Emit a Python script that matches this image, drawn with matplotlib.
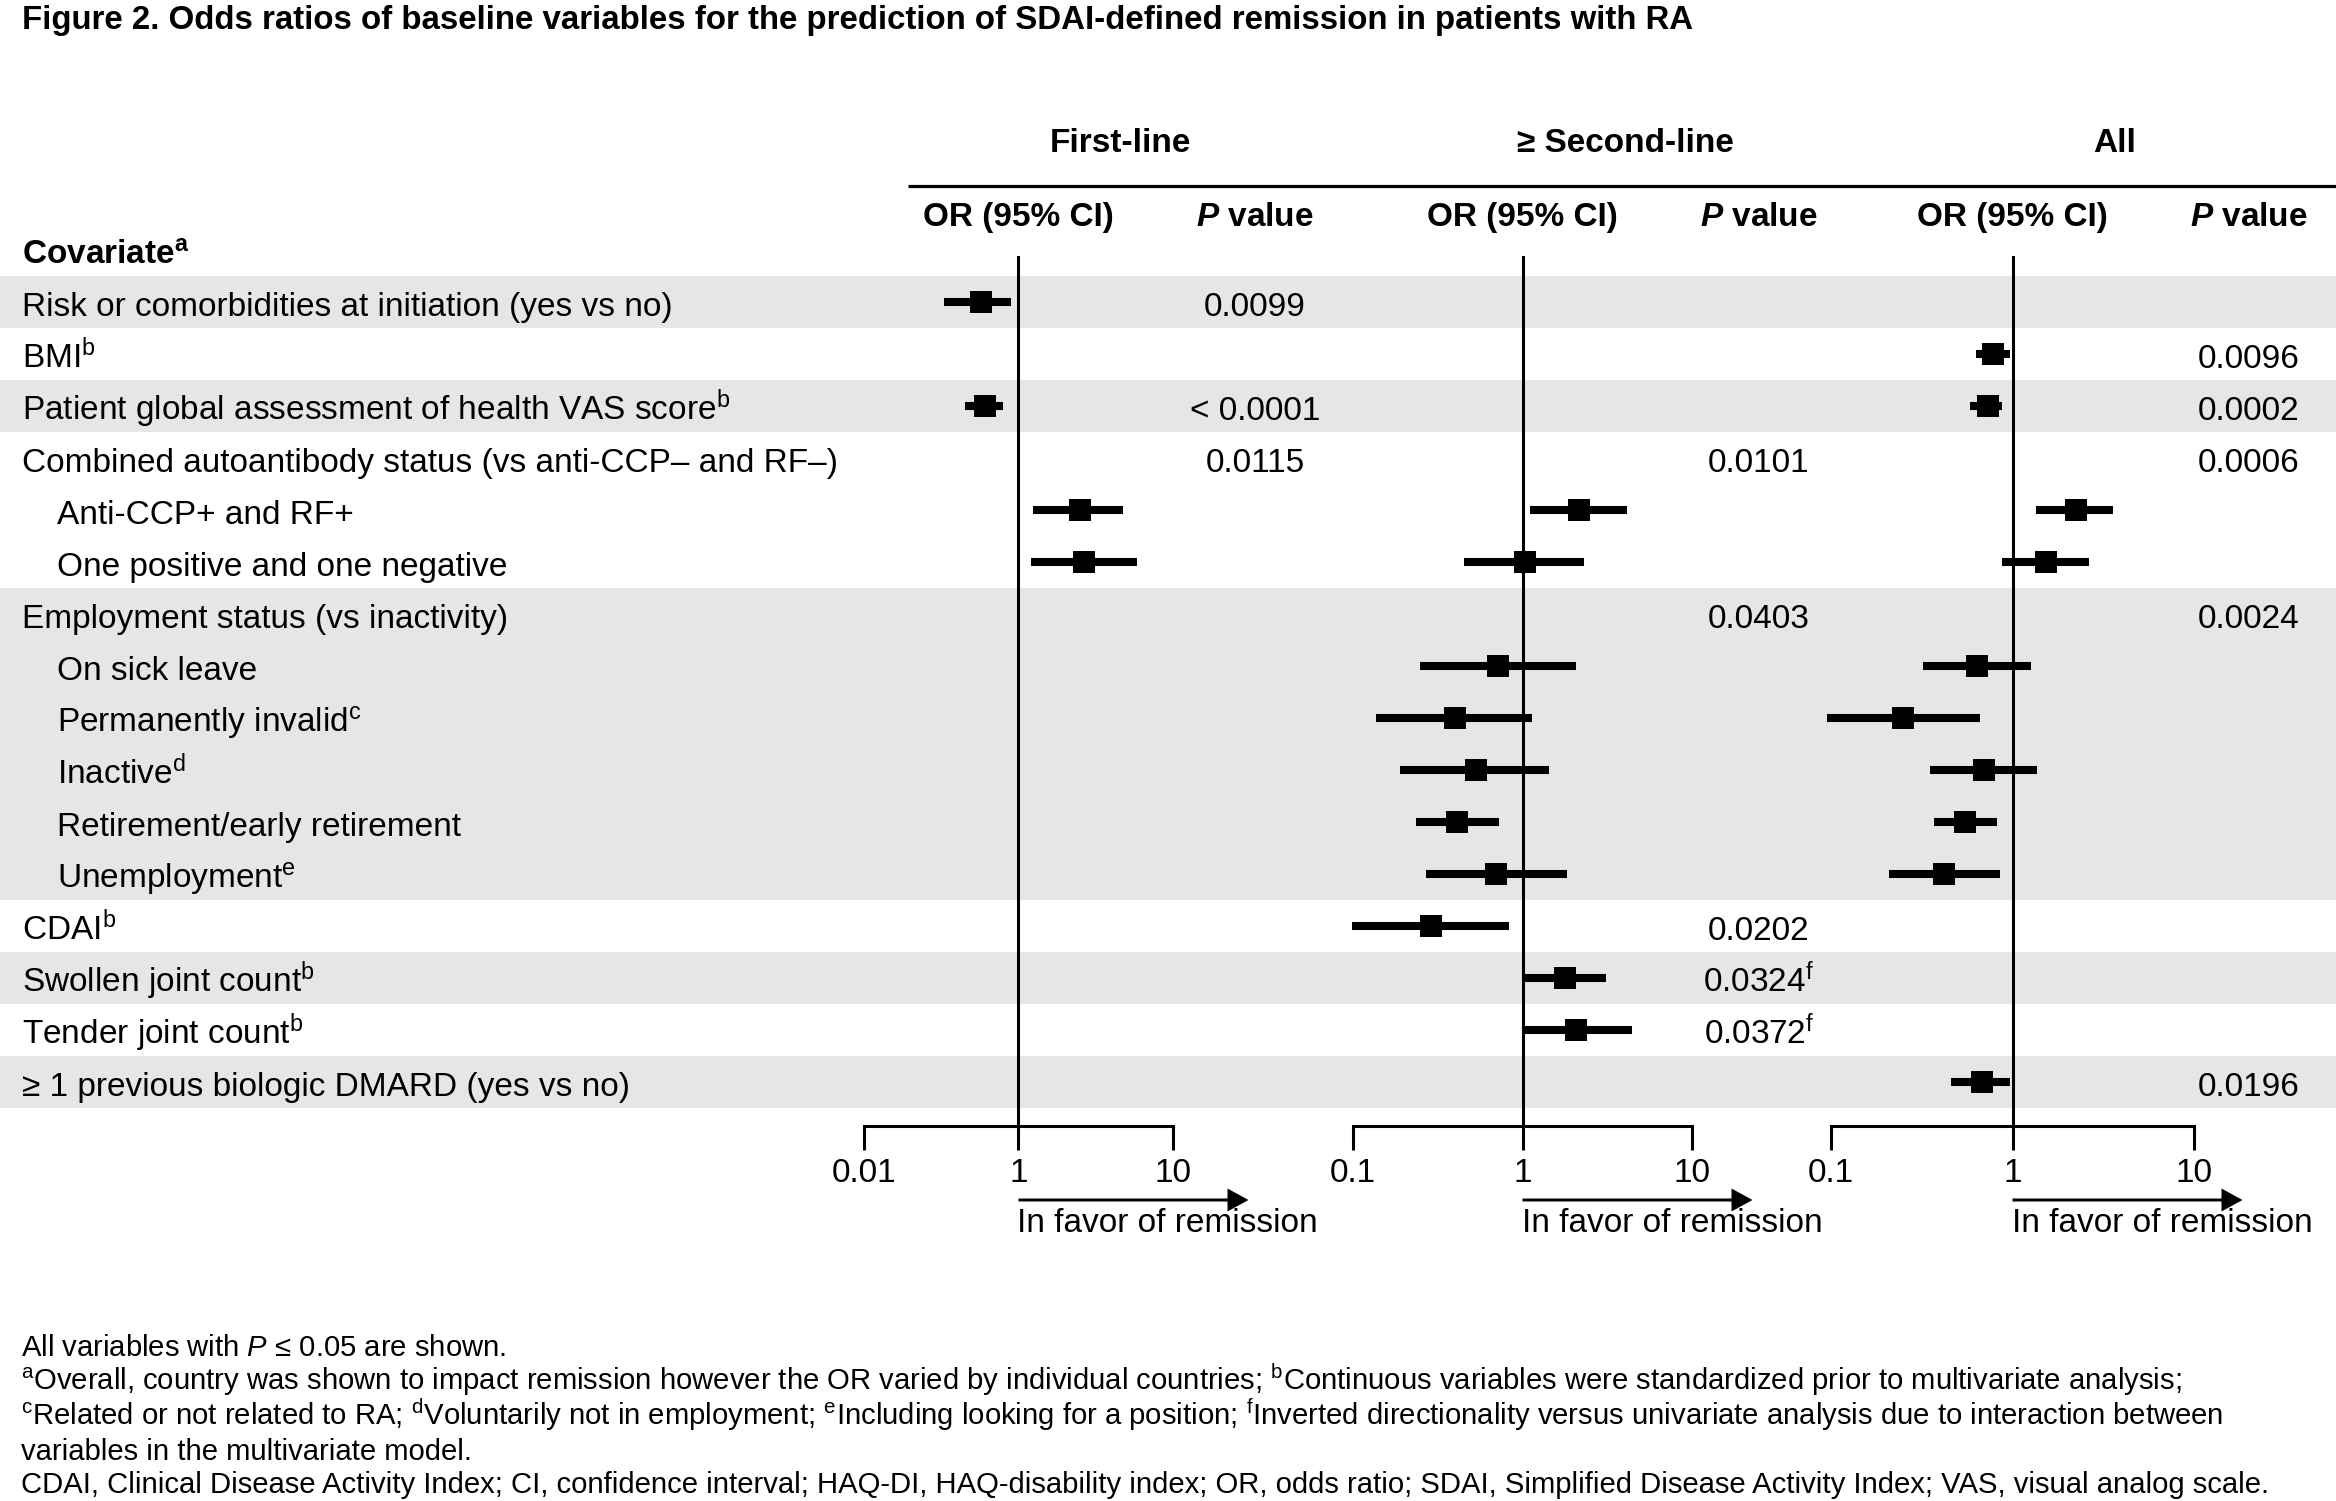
import numpy as np
import matplotlib
matplotlib.use('Agg')
import matplotlib.pyplot as plt
from matplotlib.ticker import NullLocator
from matplotlib.patches import Rectangle

plt.rcParams['font.family'] = ['Liberation Sans', 'DejaVu Sans']
plt.rcParams['mathtext.fontset'] = 'custom'
plt.rcParams['mathtext.rm'] = 'Liberation Sans'
plt.rcParams['mathtext.it'] = 'Liberation Sans:italic'
plt.rcParams['mathtext.bf'] = 'Liberation Sans:bold'
plt.rcParams['mathtext.bfit'] = 'Liberation Sans:italic:bold'

# ---------------- data ----------------
covariates = [
    "Risk or comorbidities at initiation (yes vs no)",
    r"BMI$^{\mathrm{b}}$",
    r"Patient global assessment of health VAS score$^{\mathrm{b}}$",
    "Combined autoantibody status (vs anti-CCP– and RF–)",
    "Anti-CCP+ and RF+",
    "One positive and one negative",
    "Employment status (vs inactivity)",
    "On sick leave",
    r"Permanently invalid$^{\mathrm{c}}$",
    r"Inactive$^{\mathrm{d}}$",
    "Retirement/early retirement",
    r"Unemployment$^{\mathrm{e}}$",
    r"CDAI$^{\mathrm{b}}$",
    r"Swollen joint count$^{\mathrm{b}}$",
    r"Tender joint count$^{\mathrm{b}}$",
    "≥ 1 previous biologic DMARD (yes vs no)",
]
indented = [0, 0, 0, 0, 1, 1, 0, 1, 1, 1, 1, 1, 0, 0, 0, 0]
shaded = [1, 0, 1, 0, 0, 0, 1, 1, 1, 1, 1, 1, 0, 1, 0, 1]

nan = np.nan
first_or = [0.33, nan, 0.37, nan, 2.49, 2.65, nan, nan, nan, nan, nan, nan, nan, nan, nan, nan]
first_lo = [0.11, nan, 0.20, nan, 1.24, 1.21, nan, nan, nan, nan, nan, nan, nan, nan, nan, nan]
first_hi = [0.80, nan, 0.63, nan, 4.77, 5.83, nan, nan, nan, nan, nan, nan, nan, nan, nan, nan]
first_p = ["0.0099", "", "< 0.0001", "0.0115", "", "", "", "", "", "", "", "", "", "", "", ""]

second_or = [nan, nan, nan, nan, 2.15, 1.04, nan, 0.72, 0.40, 0.53, 0.41, 0.70, 0.29, 1.78, 2.07, nan]
second_lo = [nan, nan, nan, nan, 1.10, 0.45, nan, 0.25, 0.137, 0.19, 0.236, 0.27, 0.099, 1.01, 1.01, nan]
second_hi = [nan, nan, nan, nan, 4.16, 2.32, nan, 2.07, 1.14, 1.43, 0.73, 1.82, 0.835, 3.13, 4.41, nan]
second_p = ["", "", "", "0.0101", "", "", "0.0403", "", "", "", "", "", "0.0202",
            r"0.0324$^{\mathrm{f}}$", r"0.0372$^{\mathrm{f}}$", ""]

all_or = [nan, 0.78, 0.73, nan, 2.24, 1.53, nan, 0.64, 0.25, 0.70, 0.55, 0.42, nan, nan, nan, 0.68]
all_lo = [nan, 0.63, 0.58, nan, 1.35, 0.87, nan, 0.32, 0.095, 0.35, 0.37, 0.21, nan, nan, nan, 0.46]
all_hi = [nan, 0.965, 0.88, nan, 3.60, 2.63, nan, 1.27, 0.66, 1.36, 0.82, 0.85, nan, nan, nan, 0.97]
all_p = ["", "0.0096", "0.0002", "0.0006", "", "", "0.0024", "", "", "", "", "", "", "", "", "0.0196"]

panel_titles = ["First-line", "≥ Second-line", "All"]
panel_ticks = [[0.01, 1, 10], [0.1, 1, 10], [0.1, 1, 10]]
panel_ticklabels = [["0.01", "1", "10"], ["0.1", "1", "10"], ["0.1", "1", "10"]]

# ---------------- layout ----------------
W, H, DPI = 2336, 1501, 100
ROW0, ROWH = 301.7, 52.0
PTOP, PBOT = 255.7, 1126.0
panel_x = [(864, 1173), (1353, 1692), (1831, 2194)]
pcol_x = [1255, 1759, 2249]
title_x = [1120, 1625, 2115]
FS = 24
BLACK = 'black'
GREY = '#e6e6e6'

fig = plt.figure(figsize=(W / DPI, H / DPI), dpi=DPI)
bg = fig.add_axes([0, 0, 1, 1], zorder=0)
bg.set_xlim(0, W)
bg.set_ylim(H, 0)
bg.axis('off')

n = len(covariates)
rows = np.arange(n)

# bands
for i in rows:
    if shaded[i]:
        bg.add_patch(Rectangle((0, ROW0 + ROWH * i - ROWH / 2), W, ROWH,
                               facecolor=GREY, edgecolor='none', zorder=0))

# title
bg.text(22, 29, "Figure 2. Odds ratios of baseline variables for the prediction of "
        "SDAI-defined remission in patients with RA",
        fontsize=23.8, fontweight='bold', ha='left', va='baseline', color=BLACK)

# headers
bg.plot([908, W], [185.7, 185.7], color=BLACK, lw=2.3, solid_capstyle='butt')
for k in range(3):
    bg.text(title_x[k], 152, panel_titles[k], fontsize=FS, fontweight='bold',
            ha='center', va='baseline', color=BLACK)
    xm = 0.5 * (panel_x[k][0] + panel_x[k][1])
    bg.text(xm, 226, "OR (95% CI)", fontsize=FS, fontweight='bold',
            ha='center', va='baseline', color=BLACK)
    bg.text(pcol_x[k], 226, r"$\mathbfit{P}$ value", fontsize=FS, fontweight='bold',
            ha='center', va='baseline', color=BLACK)
bg.text(22, 265, r"Covariate$^{\mathbf{a}}$", fontsize=FS, fontweight='bold',
        ha='left', va='baseline', color=BLACK)

# row labels
for i in rows:
    x = 57 if indented[i] else 22
    bg.text(x, ROW0 + ROWH * i + 14, covariates[i], fontsize=FS,
            ha='left', va='baseline', color=BLACK)

# p-values
for k, plist in enumerate([first_p, second_p, all_p]):
    for i in rows:
        if plist[i]:
            bg.text(pcol_x[k], ROW0 + ROWH * i + 14, plist[i], fontsize=FS,
                    ha='center', va='baseline', color=BLACK)


# panel scales
def fwd1(x):
    x = np.asarray(x, dtype=float)
    with np.errstate(divide='ignore', invalid='ignore'):
        l = np.log10(np.where(x > 0, x, np.nan))
    return np.where(l < 0, l / 2.0, l)


def inv1(u):
    u = np.asarray(u, dtype=float)
    return np.where(u < 0, 10.0 ** (2.0 * u), 10.0 ** u)


series = [(first_or, first_lo, first_hi), (second_or, second_lo, second_hi),
          (all_or, all_lo, all_hi)]
axes = []
for k in range(3):
    x0, x1 = panel_x[k]
    ax = fig.add_axes([x0 / W, 1 - PBOT / H, (x1 - x0) / W, (PBOT - PTOP) / H], zorder=2)
    ax.patch.set_visible(False)
    if k == 0:
        ax.set_xscale('function', functions=(fwd1, inv1))
    else:
        ax.set_xscale('log')
    ax.set_xlim(panel_ticks[k][0], panel_ticks[k][-1])
    ax.set_ylim((PBOT - ROW0) / ROWH, (PTOP - ROW0) / ROWH)
    for s in ['top', 'left', 'right']:
        ax.spines[s].set_visible(False)
    ax.spines['bottom'].set_linewidth(2.2)
    ax.set_xticks(panel_ticks[k], panel_ticklabels[k])
    ax.xaxis.set_minor_locator(NullLocator())
    ax.set_yticks([])
    ax.tick_params(axis='x', direction='out', length=17.3, width=2.2,
                   labelsize=FS, pad=6, colors=BLACK)
    ax.axvline(1, color=BLACK, lw=2.2, zorder=1)
    orv, lo, hi = (np.array(a, dtype=float) for a in series[k])
    m = ~np.isnan(orv)
    ax.hlines(rows[m], lo[m], hi[m], colors=BLACK, linewidth=5.8,
              capstyle='butt', clip_on=False, zorder=3)
    ax.plot(orv[m], rows[m], ls='none', marker='s', ms=15.8, mfc=BLACK,
            mec=BLACK, mew=0, clip_on=False, zorder=4)
    axes.append(ax)

# arrows "In favor of remission"
for ax in axes:
    x1px = ax.transData.transform((1, 0))[0]
    bg.arrow(x1px, 1200, 230, 0, width=3, head_width=23, head_length=21,
             length_includes_head=True, fc=BLACK, ec='none')
    bg.text(x1px - 1, 1232, "In favor of remission", fontsize=FS,
            ha='left', va='baseline', color=BLACK)

# footnotes
FN = 21.1
foot = [
    r"All variables with $\mathit{P}$ ≤ 0.05 are shown.",
    r"${}^{\mathrm{a}}$Overall, country was shown to impact remission however the OR varied by "
    r"individual countries; ${}^{\mathrm{b}}$Continuous variables were standardized prior to "
    r"multivariate analysis;",
    r"${}^{\mathrm{c}}$Related or not related to RA; ${}^{\mathrm{d}}$Voluntarily not in employment; "
    r"${}^{\mathrm{e}}$Including looking for a position; ${}^{\mathrm{f}}$Inverted directionality "
    r"versus univariate analysis due to interaction between",
    "variables in the multivariate model.",
    "CDAI, Clinical Disease Activity Index; CI, confidence interval; HAQ-DI, HAQ-disability index; "
    "OR, odds ratio; SDAI, Simplified Disease Activity Index; VAS, visual analog scale.",
]
foot_y = [1356, 1390.5, 1425, 1459.5, 1493]
for t, y in zip(foot, foot_y):
    bg.text(21, y, t, fontsize=FN, ha='left', va='baseline', color=BLACK)

fig.savefig('out.png', dpi=DPI)
